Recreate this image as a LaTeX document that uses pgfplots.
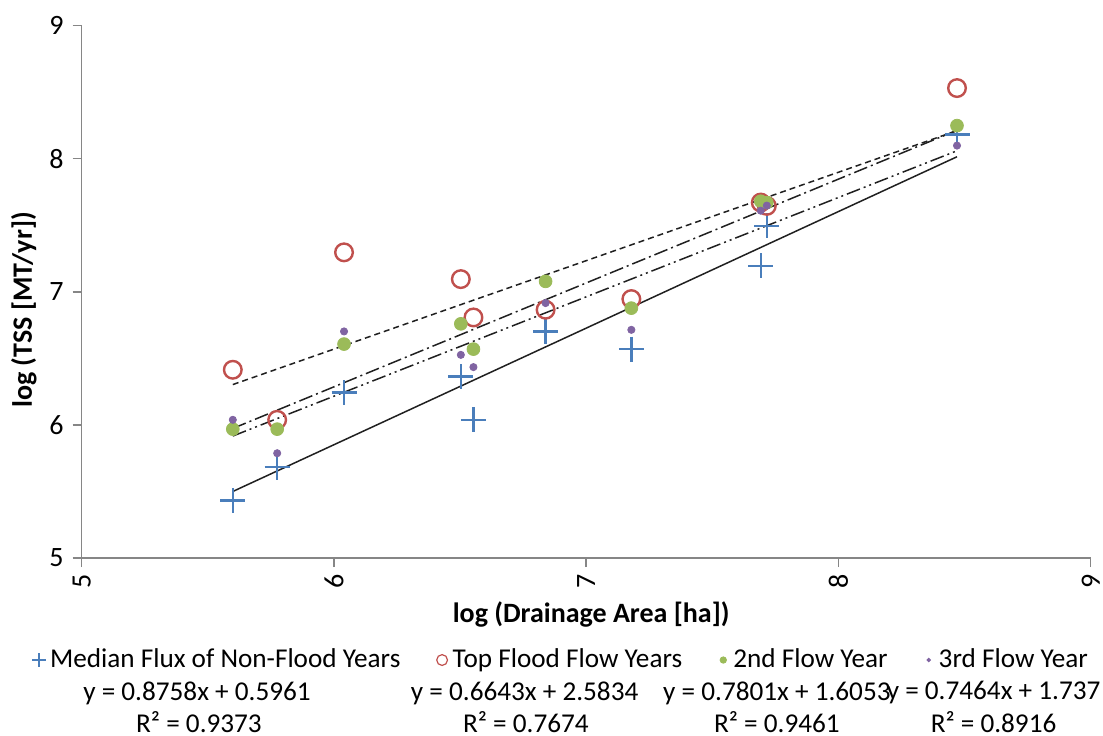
\documentclass[border=0pt]{standalone}
\usepackage{fontspec}
\setmainfont{Carlito}
\usepackage{pgfplots}
\pgfplotsset{compat=1.18}
\definecolor{cblue}{HTML}{4A7EBB}
\definecolor{cred}{HTML}{C0504D}
\definecolor{cgreen}{HTML}{9BBB59}
\definecolor{cpurple}{HTML}{8064A2}
\definecolor{axgray}{HTML}{868686}
\definecolor{trend}{HTML}{202020}
\begin{document}
\begin{tikzpicture}
\begin{axis}[
  at={(0,0)}, anchor=south west,
  scale only axis, width=504.5pt, height=266.25pt,
  xmin=5, xmax=9, ymin=5, ymax=9,
  xtick={5,6,7,8,9}, ytick={5,6,7,8,9},
  axis lines*=left,
  axis line style={axgray, line width=0.75pt},
  tick style={axgray, line width=0.75pt},
  tick align=outside, major tick length=4.5pt,
  /pgf/number format/assume math mode=true,
  ticklabel style={font=\fontsize{14}{16}\selectfont, black},
  xticklabel style={rotate=90, anchor=east},
  yticklabel style={anchor=east, xshift=-1pt},
  every axis x label/.style={at={(rel axis cs:0.5,0)}, yshift=-28pt, xshift=2.5pt, anchor=center},
  every axis y label/.style={at={(rel axis cs:0,0.466)}, xshift=-28.9pt, rotate=90, anchor=center},
  label style={font=\fontsize{14}{16}\selectfont\bfseries},
  xlabel={log (Drainage Area [ha])},
  ylabel={log (TSS [MT/yr])},
  clip=false,
  legend columns=4,
  legend cell align=left,
  legend image code/.code={\path (0pt,0pt) (6pt,0pt); \draw[#1] plot coordinates {(3pt,0pt)};},
  legend style={at={(rel axis cs:-0.0492,-0.1916)}, anchor=west, draw=none, fill=none,
    inner sep=0pt, outer sep=0pt, font=\fontsize{13.6}{15}\selectfont,
    /tikz/every even column/.append style={column sep=15.5pt}},
]
% data series
\addplot[only marks, mark=+, mark size=6.25pt, cblue, line width=1.2pt, forget plot] coordinates {
(5.599,5.431) (5.775,5.682) (6.040,6.243) (6.503,6.363) (6.553,6.038)
(6.839,6.701) (7.179,6.569) (7.692,7.195) (7.716,7.496) (8.470,8.180)};
\addplot[only marks, mark=o, mark size=4.4pt, cred, line width=1.2pt, forget plot] coordinates {
(5.599,6.414) (5.775,6.038) (6.040,7.296) (6.503,7.095) (6.553,6.807)
(6.839,6.865) (7.179,6.945) (7.692,7.670) (7.716,7.645) (8.470,8.530)};
\addplot[only marks, mark=*, mark size=3.2pt, cgreen, draw=none, fill=cgreen, forget plot] coordinates {
(5.599,5.968) (5.775,5.968) (6.040,6.607) (6.503,6.759) (6.553,6.569)
(6.839,7.078) (7.179,6.877) (7.692,7.680) (7.716,7.670) (8.470,8.248)};
\addplot[only marks, mark=*, mark size=1.8pt, cpurple, draw=none, fill=cpurple, forget plot] coordinates {
(5.599,6.038) (5.775,5.787) (6.040,6.702) (6.503,6.526) (6.553,6.434)
(6.839,6.915) (7.179,6.714) (7.692,7.609) (7.716,7.647) (8.470,8.098)};
% trendlines
\addplot[trend, line width=0.75pt, forget plot] coordinates {(5.599,5.4997) (8.470,8.0141)};
\addplot[trend, line width=0.75pt, dash pattern=on 3pt off 2pt, forget plot] coordinates {(5.599,6.3028) (8.470,8.2100)};
\addplot[trend, line width=0.75pt, dash pattern=on 7pt off 2pt on 1pt off 2pt, forget plot] coordinates {(5.599,5.9731) (8.470,8.2127)};
\addplot[trend, line width=0.75pt, dash pattern=on 7pt off 2pt on 1pt off 2pt on 1pt off 2pt, forget plot] coordinates {(5.599,5.9161) (8.470,8.0590)};
% legend
\addlegendimage{only marks, mark=+, mark size=3.5pt, cblue, line width=0.6pt}
\addlegendentry{Median Flux of Non-Flood Years}
\addlegendimage{only marks, mark=o, mark size=2.7pt, cred, line width=0.6pt}
\addlegendentry{Top Flood Flow Years}
\addlegendimage{only marks, mark=*, mark size=1.6pt, cgreen, draw=none, fill=cgreen}
\addlegendentry{2nd Flow Year}
\addlegendimage{only marks, mark=*, mark size=0.9pt, cpurple, draw=none, fill=cpurple}
\addlegendentry{3rd Flow Year}
% trendline labels
\node[font=\fontsize{13.6}{16}\selectfont, anchor=center] at (axis cs:5.457,3.986) {y = 0.8758x + 0.5961};
\node[font=\fontsize{13.6}{16}\selectfont, anchor=center] at (axis cs:5.465,3.770) {R² = 0.9373};
\node[font=\fontsize{13.6}{16}\selectfont, anchor=center] at (axis cs:6.756,3.986) {y = 0.6643x + 2.5834};
\node[font=\fontsize{13.6}{16}\selectfont, anchor=center] at (axis cs:6.761,3.770) {R² = 0.7674};
\node[font=\fontsize{13.6}{16}\selectfont, anchor=center] at (axis cs:7.756,3.986) {y = 0.7801x + 1.6053};
\node[font=\fontsize{13.6}{16}\selectfont, anchor=center] at (axis cs:7.756,3.770) {R² = 0.9461};
\node[font=\fontsize{13.6}{16}\selectfont, anchor=center] at (axis cs:8.615,3.986) {y = 0.7464x + 1.737};
\node[font=\fontsize{13.6}{16}\selectfont, anchor=center] at (axis cs:8.615,3.770) {R² = 0.8916};
\end{axis}
\pgfresetboundingbox
\useasboundingbox (-40.85pt,-88.5pt) rectangle (510.65pt,279pt);
\end{tikzpicture}
\end{document}
